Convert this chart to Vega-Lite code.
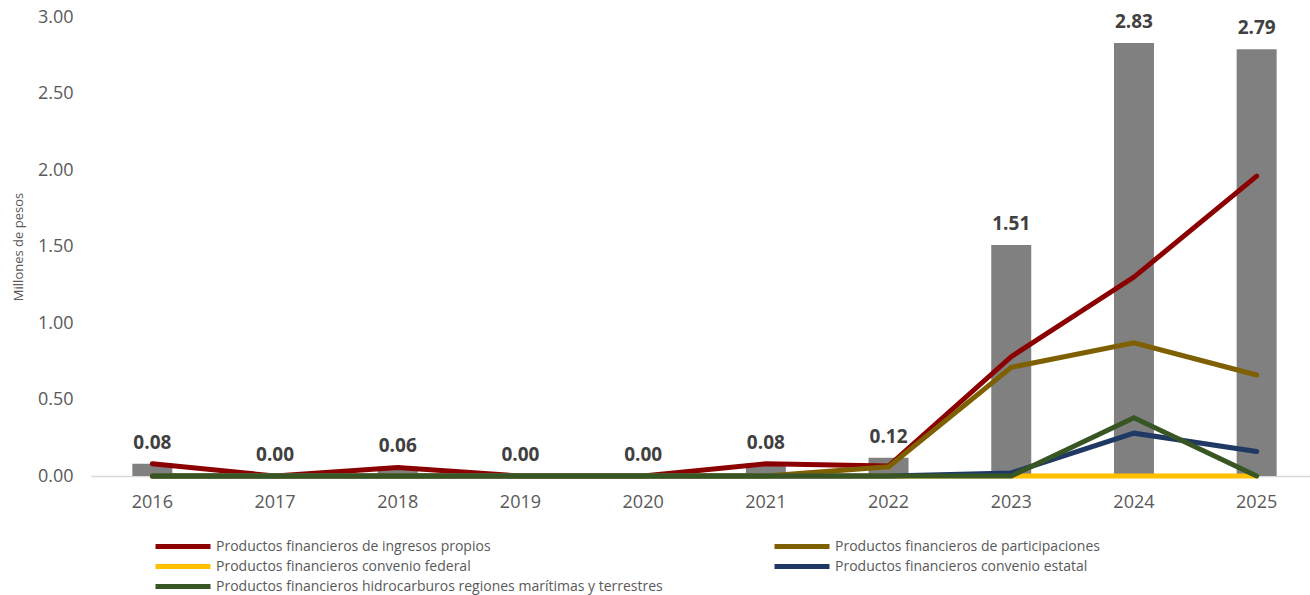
{
  "$schema": "https://vega.github.io/schema/vega-lite/v6.json",
  "autosize": {"type": "none"},
  "padding": {"left": 91, "top": 17, "right": 0, "bottom": 119},
  "width": 1227,
  "height": 459,
  "background": "white",
  "config": {
    "font": "Open Sans",
    "view": {"stroke": null}
  },
  "datasets": {
    "totals": [
      {"year": "2016", "total": 0.08},
      {"year": "2017", "total": 0.0},
      {"year": "2018", "total": 0.06},
      {"year": "2019", "total": 0.0},
      {"year": "2020", "total": 0.0},
      {"year": "2021", "total": 0.08},
      {"year": "2022", "total": 0.12},
      {"year": "2023", "total": 1.51},
      {"year": "2024", "total": 2.83},
      {"year": "2025", "total": 2.79}
    ],
    "series": [
      {"year": "2016", "serie": "Productos financieros de ingresos propios", "value": 0.08},
      {"year": "2017", "serie": "Productos financieros de ingresos propios", "value": 0.0},
      {"year": "2018", "serie": "Productos financieros de ingresos propios", "value": 0.055},
      {"year": "2019", "serie": "Productos financieros de ingresos propios", "value": 0.0},
      {"year": "2020", "serie": "Productos financieros de ingresos propios", "value": 0.0},
      {"year": "2021", "serie": "Productos financieros de ingresos propios", "value": 0.08},
      {"year": "2022", "serie": "Productos financieros de ingresos propios", "value": 0.065},
      {"year": "2023", "serie": "Productos financieros de ingresos propios", "value": 0.78},
      {"year": "2024", "serie": "Productos financieros de ingresos propios", "value": 1.30},
      {"year": "2025", "serie": "Productos financieros de ingresos propios", "value": 1.96},
      {"year": "2016", "serie": "Productos financieros de participaciones", "value": 0.0},
      {"year": "2017", "serie": "Productos financieros de participaciones", "value": 0.0},
      {"year": "2018", "serie": "Productos financieros de participaciones", "value": 0.0},
      {"year": "2019", "serie": "Productos financieros de participaciones", "value": 0.0},
      {"year": "2020", "serie": "Productos financieros de participaciones", "value": 0.0},
      {"year": "2021", "serie": "Productos financieros de participaciones", "value": 0.0},
      {"year": "2022", "serie": "Productos financieros de participaciones", "value": 0.06},
      {"year": "2023", "serie": "Productos financieros de participaciones", "value": 0.71},
      {"year": "2024", "serie": "Productos financieros de participaciones", "value": 0.87},
      {"year": "2025", "serie": "Productos financieros de participaciones", "value": 0.66},
      {"year": "2016", "serie": "Productos financieros convenio federal", "value": 0.0},
      {"year": "2017", "serie": "Productos financieros convenio federal", "value": 0.0},
      {"year": "2018", "serie": "Productos financieros convenio federal", "value": 0.0},
      {"year": "2019", "serie": "Productos financieros convenio federal", "value": 0.0},
      {"year": "2020", "serie": "Productos financieros convenio federal", "value": 0.0},
      {"year": "2021", "serie": "Productos financieros convenio federal", "value": 0.0},
      {"year": "2022", "serie": "Productos financieros convenio federal", "value": 0.0},
      {"year": "2023", "serie": "Productos financieros convenio federal", "value": 0.0},
      {"year": "2024", "serie": "Productos financieros convenio federal", "value": 0.0},
      {"year": "2025", "serie": "Productos financieros convenio federal", "value": 0.0},
      {"year": "2016", "serie": "Productos financieros convenio estatal", "value": 0.0},
      {"year": "2017", "serie": "Productos financieros convenio estatal", "value": 0.0},
      {"year": "2018", "serie": "Productos financieros convenio estatal", "value": 0.0},
      {"year": "2019", "serie": "Productos financieros convenio estatal", "value": 0.0},
      {"year": "2020", "serie": "Productos financieros convenio estatal", "value": 0.0},
      {"year": "2021", "serie": "Productos financieros convenio estatal", "value": 0.0},
      {"year": "2022", "serie": "Productos financieros convenio estatal", "value": 0.0},
      {"year": "2023", "serie": "Productos financieros convenio estatal", "value": 0.02},
      {"year": "2024", "serie": "Productos financieros convenio estatal", "value": 0.28},
      {"year": "2025", "serie": "Productos financieros convenio estatal", "value": 0.16},
      {"year": "2016", "serie": "Productos financieros hidrocarburos regiones marítimas y terrestres", "value": 0.0},
      {"year": "2017", "serie": "Productos financieros hidrocarburos regiones marítimas y terrestres", "value": 0.0},
      {"year": "2018", "serie": "Productos financieros hidrocarburos regiones marítimas y terrestres", "value": 0.0},
      {"year": "2019", "serie": "Productos financieros hidrocarburos regiones marítimas y terrestres", "value": 0.0},
      {"year": "2020", "serie": "Productos financieros hidrocarburos regiones marítimas y terrestres", "value": 0.0},
      {"year": "2021", "serie": "Productos financieros hidrocarburos regiones marítimas y terrestres", "value": 0.0},
      {"year": "2022", "serie": "Productos financieros hidrocarburos regiones marítimas y terrestres", "value": 0.0},
      {"year": "2023", "serie": "Productos financieros hidrocarburos regiones marítimas y terrestres", "value": 0.0},
      {"year": "2024", "serie": "Productos financieros hidrocarburos regiones marítimas y terrestres", "value": 0.38},
      {"year": "2025", "serie": "Productos financieros hidrocarburos regiones marítimas y terrestres", "value": 0.0}
    ]
  },
  "encoding": {
    "x": {
      "field": "year", "type": "ordinal",
      "scale": {"paddingInner": 0, "paddingOuter": 0},
      "axis": {
        "title": null, "labelAngle": 0, "labelFontSize": 18, "labelColor": "#595959",
        "labelPadding": 17, "ticks": false, "domainColor": "#d9d9d9", "domainWidth": 1.5, "grid": false
      }
    }
  },
  "layer": [
    {
      "data": {"name": "totals"},
      "mark": {"type": "bar", "color": "#808080", "size": 40},
      "encoding": {
        "y": {
          "field": "total", "type": "quantitative",
          "scale": {"domain": [0, 3], "nice": false},
          "axis": {
            "title": "Millones de pesos", "titleFontSize": 13, "titleFontWeight": "normal",
            "titleColor": "#595959", "titlePadding": 12,
            "values": [0, 0.5, 1, 1.5, 2, 2.5, 3], "format": ".2f",
            "labelFontSize": 18, "labelColor": "#595959", "labelPadding": 18,
            "ticks": false, "domain": false, "grid": false
          }
        }
      }
    },
    {
      "data": {"name": "series"},
      "mark": {"type": "line", "strokeWidth": 5, "strokeCap": "round"},
      "encoding": {
        "y": {"field": "value", "type": "quantitative"},
        "color": {
          "field": "serie", "type": "nominal",
          "scale": {
            "domain": [
              "Productos financieros de ingresos propios",
              "Productos financieros de participaciones",
              "Productos financieros convenio federal",
              "Productos financieros convenio estatal",
              "Productos financieros hidrocarburos regiones marítimas y terrestres"
            ],
            "range": ["#8b0000", "#7f6000", "#ffc000", "#1f3864", "#375623"]
          },
          "legend": {
            "title": null, "orient": "none", "direction": "horizontal", "legendX": 62, "legendY": 520,
            "columns": 2, "columnPadding": 109, "rowPadding": 1, "clipHeight": 19,
            "symbolType": "stroke", "symbolSize": 3025, "symbolStrokeWidth": 5,
            "labelFontSize": 14, "labelColor": "#595959", "labelOffset": 3, "labelLimit": 600
          }
        }
      }
    },
    {
      "data": {"name": "totals"},
      "mark": {"type": "text", "fontSize": 19, "fontWeight": "bold", "color": "#404040", "baseline": "bottom", "dy": -11},
      "encoding": {
        "y": {"field": "total", "type": "quantitative"},
        "text": {"field": "total", "type": "quantitative", "format": ".2f"}
      }
    }
  ]
}
